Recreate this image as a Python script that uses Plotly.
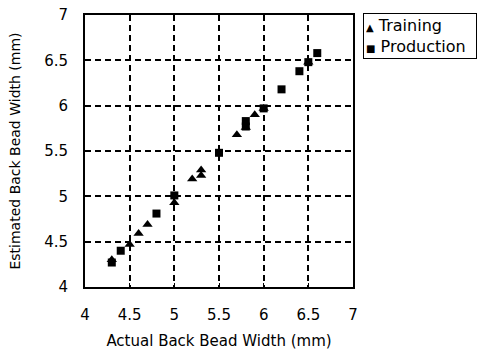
import plotly.graph_objects as go

train_x = [4.3, 4.5, 4.6, 4.7, 5.0, 5.2, 5.3, 5.3, 5.7, 5.8, 5.9, 6.0, 6.5]
train_y = [4.30, 4.47, 4.59, 4.69, 4.93, 5.19, 5.23, 5.29, 5.68, 5.76, 5.90, 5.97, 6.48]
prod_x = [4.3, 4.4, 4.8, 5.0, 5.5, 5.8, 5.8, 6.0, 6.2, 6.4, 6.5, 6.6]
prod_y = [4.27, 4.40, 4.81, 5.01, 5.48, 5.83, 5.77, 5.97, 6.18, 6.38, 6.48, 6.58]
tick_vals = [4, 4.5, 5, 5.5, 6, 6.5, 7]
tick_text = ["4", "4.5", "5", "5.5", "6", "6.5", "7"]
legend_labels = ["Training", "Production"]

FONT = "DejaVu Sans"

fig = go.Figure()
fig.add_trace(go.Scatter(x=train_x, y=train_y, mode="markers", name=legend_labels[0],
                         marker=dict(symbol="triangle-up", size=9, color="black")))
fig.add_trace(go.Scatter(x=prod_x, y=prod_y, mode="markers", name=legend_labels[1],
                         marker=dict(symbol="square", size=8, color="black")))

axis_common = dict(range=[4, 7], tickvals=tick_vals, ticktext=tick_text,
                   showgrid=True, gridcolor="black", griddash="6px,4px", gridwidth=1.5,
                   showline=True, linecolor="black", linewidth=2, mirror=True,
                   ticks="inside", ticklen=4, tickcolor="black", zeroline=False,
                   automargin=False,
                   tickfont=dict(family=FONT, size=15, color="black"))

fig.update_xaxes(**axis_common, ticklabelstandoff=13,
                 title=dict(text="Actual Back Bead Width (mm)", standoff=12,
                            font=dict(family=FONT, size=15, color="black")))
fig.update_yaxes(**axis_common, ticklabelstandoff=12,
                 title=dict(text="Estimated Back Bead Width (mm)", standoff=20,
                            font=dict(family=FONT, size=14, color="black")))

# legend drawn as one bordered text box
sym_tri = "<span style='font-size:10px'>▲</span> "
sym_sq = "<span style='font-size:10px'>■</span> "
fig.add_annotation(xref="paper", yref="paper", x=1.037, y=1.007, xanchor="left", yanchor="top",
                   text=sym_tri + legend_labels[0] + "<br>" + sym_sq + legend_labels[1],
                   align="left", showarrow=False, width=108, height=40,
                   bordercolor="black", borderwidth=1, borderpad=2, bgcolor="white",
                   font=dict(family=FONT, size=16, color="black"))

fig.update_layout(
    width=481, height=352,
    margin=dict(l=85, r=128, t=15, b=65),
    plot_bgcolor="white", paper_bgcolor="white",
    showlegend=False,
)

fig.write_html("out.html")
